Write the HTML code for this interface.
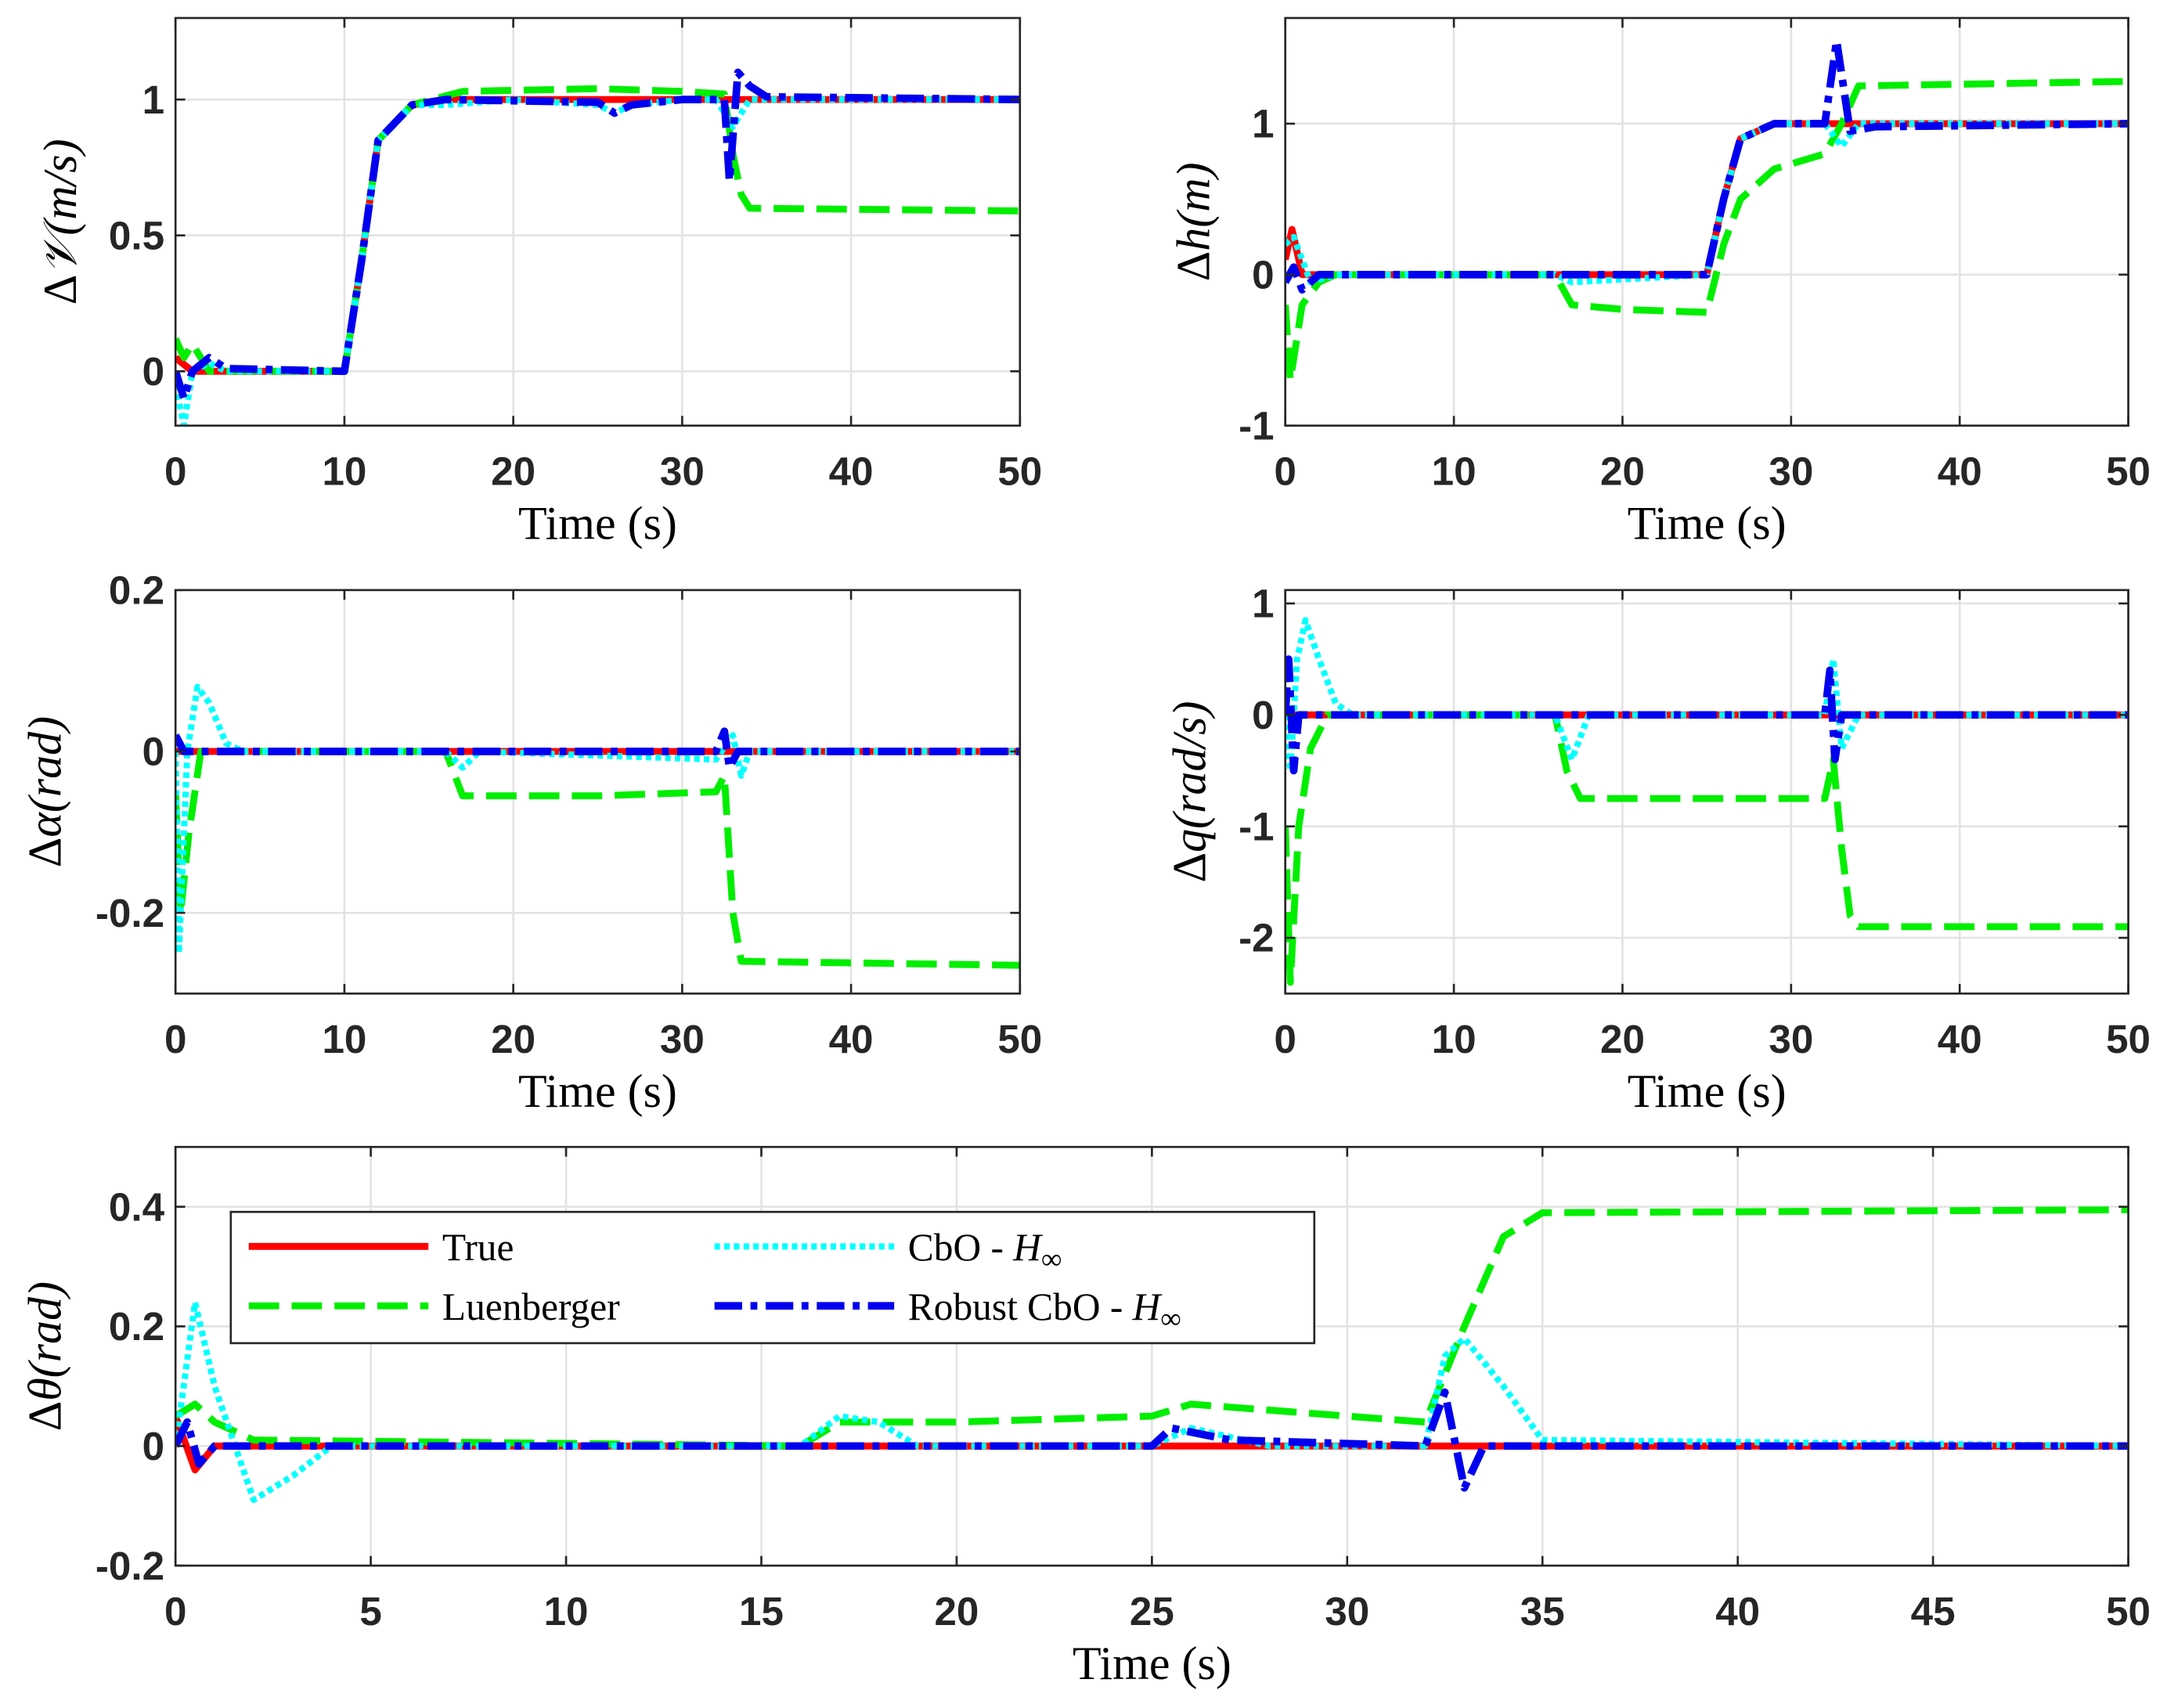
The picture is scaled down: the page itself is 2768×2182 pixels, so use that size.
<!DOCTYPE html>
<html><head><meta charset="utf-8"><style>
html,body{margin:0;padding:0;background:#fff}
svg{display:block}
.tk{font-family:"Liberation Sans",sans-serif;font-weight:bold;font-size:29px;fill:#262626}
.lb{font-family:"Liberation Serif",serif;font-size:34px;fill:#000}
.lg{font-family:"Liberation Serif",serif;font-size:28px;fill:#000}
</style></head><body>
<svg id="fig" width="2768" height="2182" viewBox="0 0 1568 1236" xmlns="http://www.w3.org/2000/svg"></svg>
<script>
// ---- data ----
const v_true=[[0,0.05],[1,0],[10,0],[11,0.4],[12,0.85],[14,0.98],[16,1],[50,1]];
const v_luen=[[0,0.12],[0.5,0.05],[1,0.1],[2,0],[10,0],[11,0.4],[12,0.85],[14,0.98],[17,1.03],[25,1.04],[30,1.03],[32.5,1.02],[33,0.8],[33.5,0.65],[34,0.6],[50,0.59]];
const v_cbo=[[0,-0.05],[0.5,-0.2],[1,0],[2,0.03],[3,0],[10,0],[11,0.4],[12,0.85],[14,0.98],[16,0.98],[20,1],[25,0.98],[26,0.95],[27,0.98],[30,1],[32,1],[33,0.9],[34,1],[50,1]];
const v_rob=[[0,0],[0.5,-0.1],[1,0],[2,0.05],[3,0.01],[10,0],[11,0.4],[12,0.85],[14,0.98],[16,1],[25,0.99],[26,0.95],[27,0.98],[30,1],[32.5,1],[32.8,0.7],[33.3,1.1],[34,1.05],[35,1.01],[50,1]];

const h_true=[[0,0.1],[0.4,0.3],[1,0],[25,0],[26,0.5],[27,0.9],[29,1],[50,1]];
const h_luen=[[0,-0.2],[0.3,-0.7],[1,-0.2],[2,-0.05],[3,0],[16,0],[17,-0.2],[20,-0.23],[25,-0.25],[26,0.2],[27,0.5],[29,0.7],[32,0.8],[33,1],[34,1.25],[50,1.28]];
const h_cbo=[[0,0.2],[0.5,0.25],[1.5,-0.05],[3,0],[16,0],[17,-0.05],[25,0],[26,0.5],[27,0.9],[29,1],[32,1],[33,0.85],[34,1],[50,1]];
const h_rob=[[0,-0.05],[0.5,0.05],[1,-0.1],[2,0],[25,0],[26,0.5],[27,0.9],[29,1],[32,1],[32.7,1.55],[33.5,0.95],[35,0.98],[50,1]];

const a_true=[[0,0],[50,0]];
const a_luen=[[0,-0.05],[0.3,-0.2],[0.8,-0.1],[1.5,0],[16,0],[17,-0.055],[25,-0.055],[32,-0.05],[32.5,-0.03],[33,-0.2],[33.5,-0.26],[50,-0.265]];
const a_cbo=[[0,0],[0.2,-0.25],[0.7,0],[1.3,0.08],[2,0.06],[3,0.01],[4,0],[16,0],[17,-0.02],[18,0],[32,-0.01],[33,0.02],[33.5,-0.03],[34,0],[50,0]];
const a_rob=[[0,0.02],[0.5,0],[32,0],[32.5,0.025],[32.8,-0.02],[33.3,0],[50,0]];

const q_true=[[0,0],[50,0]];
const q_luen=[[0,-1],[0.3,-2.4],[0.8,-1],[1.5,-0.3],[2.5,0],[16,0],[16.7,-0.5],[17.5,-0.75],[32,-0.75],[32.5,-0.4],[33,-1.2],[33.5,-1.8],[34,-1.9],[50,-1.9]];
const q_cbo=[[0,0],[0.3,-0.5],[0.7,0.5],[1.2,0.85],[2,0.5],[3,0.1],[4,0],[16,0],[17,-0.4],[18,0],[32,0],[32.5,0.5],[33,-0.3],[34,0],[50,0]];
const q_rob=[[0,0],[0.2,0.5],[0.5,-0.5],[0.8,0],[32,0],[32.3,0.4],[32.6,-0.4],[33,0],[50,0]];

const t_true=[[0,0.05],[0.5,-0.04],[1,0],[50,0]];
const t_luen=[[0,0.05],[0.5,0.07],[1,0.04],[2,0.01],[16,0],[17,0.04],[20,0.04],[25,0.05],[26,0.07],[30,0.05],[32,0.04],[33,0.2],[34,0.35],[35,0.39],[50,0.395]];
const t_cbo=[[0,0],[0.5,0.24],[1,0.1],[2,-0.09],[3,-0.05],[4,0],[16,0],[17,0.05],[18,0.04],[19,0],[25,0],[26,0.03],[28,0],[32,0],[32.5,0.15],[33,0.18],[34,0.1],[35,0.01],[50,0]];
const t_rob=[[0,0],[0.3,0.04],[0.6,-0.03],[1,0],[25,0],[25.5,0.03],[27,0.01],[32,0],[32.5,0.09],[33,-0.07],[33.5,0],[50,0]];

const xt10=[0,10,20,30,40,50];
const xt5=[0,5,10,15,20,25,30,35,40,45,50];
const yt_v=[0,0.5,1], yt_h=[-1,0,1], yt_a=[-0.2,0,0.2], yt_q=[-2,-1,0,1], yt_t=[-0.2,0,0.2,0.4];

const NS="http://www.w3.org/2000/svg";
const svg=document.getElementById('fig');
function mk(tag,attrs,parent){const e=document.createElementNS(NS,tag);for(const k in attrs)e.setAttribute(k,attrs[k]);(parent||svg).appendChild(e);return e;}
const styles={
 true:{stroke:'#ff0000','stroke-width':5,'stroke-dasharray':'none'},
 luen:{stroke:'#00ee00','stroke-width':5,'stroke-dasharray':'22 9'},
 cbo:{stroke:'#00ffff','stroke-width':4.5,'stroke-dasharray':'4 3'},
 rob:{stroke:'#0000ee','stroke-width':5.5,'stroke-dasharray':'20 6 5 6'}
};
function plot(name,L,T,R,B,ymin,ymax,xt,yt,series,ylabelParts,ylx){
 const g=mk('g',{});
 
 
 const sx=x=>L+(x-0)/(50-0)*(R-L);
 const sy=y=>B-(y-ymin)/(ymax-ymin)*(B-T);
 mk('rect',{x:L,y:T,width:R-L,height:B-T,fill:'#fff'},g);
 xt.forEach(v=>{const l=mk('line',{x1:sx(v),x2:sx(v),y1:T,y2:B,stroke:'#e3e3e3','stroke-width':1.5},g);});
 yt.forEach(v=>{const l=mk('line',{x1:L,x2:R,y1:sy(v),y2:sy(v),stroke:'#e3e3e3','stroke-width':1.5},g);});
 const cid='c'+name;
 const cp=mk('clipPath',{id:cid},g);mk('rect',{x:L,y:T,width:R-L,height:B-T},cp);
 const sg=mk('g',{'clip-path':'url(#'+cid+')'},g);
 ['true','luen','cbo','rob'].forEach(k=>{
  const d=series[k].map((p,i)=>(i?'L':'M')+sx(p[0]).toFixed(2)+','+sy(p[1]).toFixed(2)).join('');
  const s=styles[k];
  const p=mk('path',{d:d,fill:'none',stroke:s.stroke,'stroke-width':s['stroke-width'],'stroke-dasharray':s['stroke-dasharray'],'stroke-linejoin':'round'},sg);
  
  
 });
 mk('rect',{x:L,y:T,width:R-L,height:B-T,fill:'none',stroke:'#262626','stroke-width':1.5},g);
 xt.forEach(v=>{
  mk('line',{x1:sx(v),x2:sx(v),y1:B,y2:B-7,stroke:'#262626','stroke-width':1.5},g);
  mk('line',{x1:sx(v),x2:sx(v),y1:T,y2:T+7,stroke:'#262626','stroke-width':1.5},g);
  const t=mk('text',{x:sx(v),y:B+43,'text-anchor':'middle',class:'tk'},g);t.textContent=v;
  
 });
 yt.forEach(v=>{
  mk('line',{x1:L,x2:L+7,y1:sy(v),y2:sy(v),stroke:'#262626','stroke-width':1.5},g);
  mk('line',{x1:R,x2:R-7,y1:sy(v),y2:sy(v),stroke:'#262626','stroke-width':1.5},g);
  const t=mk('text',{x:L-8,y:sy(v)+10,'text-anchor':'end',class:'tk'},g);t.textContent=v;
  
 });
 const xl=mk('text',{x:(L+R)/2,y:B+82,'text-anchor':'middle',class:'lb'},g);xl.textContent='Time (s)';
 
 const yl=mk('text',{transform:'translate('+ylx+','+((T+B)/2)+') rotate(-90)','text-anchor':'middle',class:'lb'},g);
 
 const a=mk('tspan',{},yl);a.textContent='Δ';
 const b=mk('tspan',{'font-style':'italic'},yl);b.textContent=ylabelParts;
 return {sx,sy};
}
plot('plot-velocity',127,13,738,308,-0.2,1.3,xt10,yt_v,{true:v_true,luen:v_luen,cbo:v_cbo,rob:v_rob},'𝒱(m/s)',55);
plot('plot-altitude',930,13,1540,308,-1,1.7,xt10,yt_h,{true:h_true,luen:h_luen,cbo:h_cbo,rob:h_rob},'h(m)',875);
plot('plot-alpha',127,427,738,719,-0.3,0.2,xt10,yt_a,{true:a_true,luen:a_luen,cbo:a_cbo,rob:a_rob},'α(rad)',44);
plot('plot-pitch-rate',930,427,1540,719,-2.5,1.12,xt10,yt_q,{true:q_true,luen:q_luen,cbo:q_cbo,rob:q_rob},'q(rad/s)',872);
plot('plot-theta',127,830,1540,1133,-0.2,0.5,xt5,yt_t,{true:t_true,luen:t_luen,cbo:t_cbo,rob:t_rob},'θ(rad)',44);

// legend
const lg=mk('g',{});


mk('rect',{x:167,y:877,width:784,height:95,fill:'#fff',stroke:'#262626','stroke-width':1.5},lg);
const entries=[['true','True',180,902],['luen','Luenberger',180,945],['cbo','CbO - ',517,902],['rob','Robust CbO - ',517,945]];
entries.forEach(e=>{
 const s=styles[e[0]];
 const eg=mk('g',{},lg);
 
 
 mk('line',{x1:e[2],x2:e[2]+130,y1:e[3],y2:e[3],stroke:s.stroke,'stroke-width':s['stroke-width'],'stroke-dasharray':s['stroke-dasharray']},eg);
 const t=mk('text',{x:e[2]+140,y:e[3]+10,class:'lg'},eg);t.textContent=e[1];
 if(e[0]==='cbo'||e[0]==='rob'){const h=mk('tspan',{'font-style':'italic'},t);h.textContent='H';const sub=mk('tspan',{dy:6,'font-size':21},t);sub.textContent='∞';}
});
</script>
</body></html>
